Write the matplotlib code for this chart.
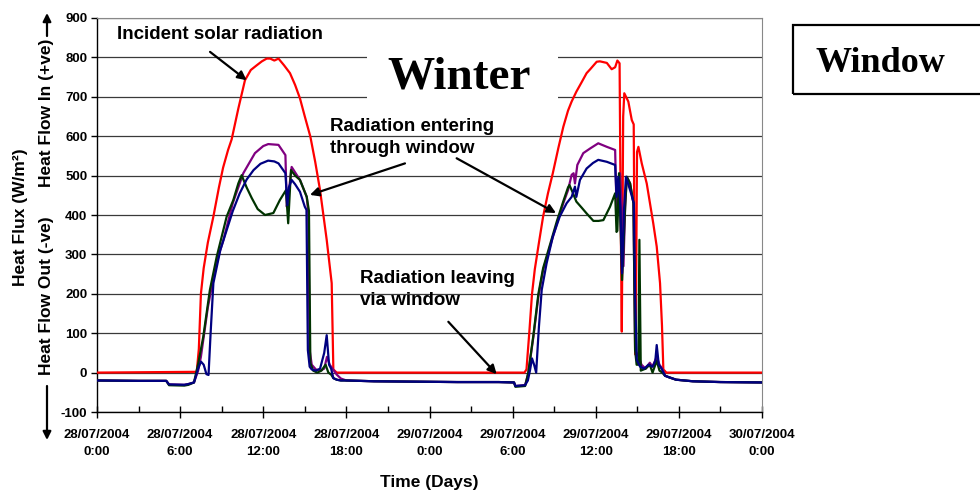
import matplotlib
matplotlib.use('Agg')
import matplotlib.pyplot as plt
from matplotlib.patches import Rectangle, FancyArrowPatch
from matplotlib.ticker import MultipleLocator

# ---------------- data (hours from 28/07/2004 0:00, W/m2) ----------------
red_t = [0, 7.2, 7.35, 7.5, 7.7, 8.0, 8.4, 8.8, 9.1, 9.46, 9.72, 10.2, 10.68, 11.1, 11.53, 11.9,
         12.25, 12.5, 12.8, 13.1, 13.5, 13.93, 14.3, 14.65, 15.0, 15.4, 15.75, 16.1, 16.58, 16.94,
         17.06, 17.3, 30.85, 31.0, 31.2, 31.4, 31.6, 31.9, 32.2, 32.55, 32.9, 33.3, 33.66, 34.0,
         34.26, 34.6, 34.95, 35.34, 35.6, 36.07, 36.3, 36.8, 37.15, 37.4, 37.56, 37.72, 37.8, 37.88,
         37.98, 38.06, 38.35, 38.6, 38.74, 38.8, 38.88, 38.98, 39.08, 39.32, 39.68, 40.15, 40.4,
         40.64, 40.78, 40.88, 41.1, 48]
red_v = [0, 2, 60, 200, 265, 330, 396, 470, 520, 565, 592, 670, 742, 768, 780, 790,
         797, 797, 792, 797, 780, 760, 730, 696, 650, 599, 535, 463, 337, 227,
         8, 0, 0, 8, 100, 200, 262, 330, 396, 455, 506, 570, 624, 665,
         688, 713, 735, 760, 770, 789, 790, 786, 770, 775, 792, 785, 400, 104,
         650, 709, 688, 641, 630, 300, 45, 560, 573, 531, 480, 379, 320,
         227, 120, 8, 0, 0]

purple_t = [0, 3, 5.0, 5.2, 6.3, 6.6, 7.0, 7.3, 7.5, 7.7, 8.0, 8.4, 8.8, 9.12, 9.8, 10.56, 11.4,
            12.0, 12.36, 13.1, 13.6, 13.7, 13.8, 14.05, 14.65, 15.14, 15.25, 15.35, 15.5, 15.8,
            16.1, 16.4, 16.6, 16.8, 17.0, 17.3, 17.6, 18.0, 20, 23, 26, 29, 30.1, 30.2, 30.9,
            31.13, 31.5, 31.86, 32.2, 32.7, 33.2, 33.66, 34.0, 34.26, 34.4, 34.5, 34.67, 35.1,
            35.6, 36.18, 36.8, 37.4, 37.5, 37.62, 37.75, 37.9, 38.0, 38.12, 38.24, 38.48, 38.72,
            38.84, 39.1, 39.3, 39.6, 39.9, 40.1, 40.4, 40.6, 40.8, 41.0, 41.3, 41.8, 43, 45, 48]
purple_v = [-20, -21, -21, -30, -31, -29, -25, 5, 40, 90, 165, 240, 300, 336, 430, 506, 557,
            575, 580, 578, 552, 421, 446, 522, 489, 446, 405, 57, 20, 8,
            5, 10, 40, 20, 10, -5, -15, -20, -22, -23, -24, -24, -25, -34, -32,
            -2, 91, 193, 260, 320, 379, 430, 463, 502, 506, 480, 527, 557,
            569, 582, 573, 565, 413, 470, 506, 400, 270, 420, 497, 480, 430,
            57, 40, 20, 10, 25, 15, 40, 20, 10, -8, -12, -18, -22, -24, -25]

green_t = [0, 3, 5.0, 5.2, 6.3, 6.6, 7.0, 7.3, 7.67, 8.15, 8.64, 9.36, 9.84, 10.2, 10.44, 10.8,
           11.17, 11.6, 12.13, 12.73, 13.2, 13.64, 13.8, 14.0, 14.3, 14.65, 15.14, 15.3, 15.4,
           15.6, 15.9, 16.2, 16.5, 16.7, 16.9, 17.06, 17.3, 17.6, 18.0, 20, 23, 26, 29, 30.1,
           30.2, 30.9, 31.0, 31.13, 31.5, 31.86, 32.2, 32.7, 33.2, 33.66, 34.0, 34.1, 34.3, 34.6,
           35.0, 35.34, 35.83, 36.2, 36.55, 37.03, 37.4, 37.5, 37.56, 37.68, 37.9, 38.12, 38.24,
           38.48, 38.72, 38.84, 38.95, 39.08, 39.15, 39.25, 39.6, 39.9, 40.1, 40.4, 40.6, 40.8,
           41.0, 41.3, 41.8, 43, 45, 48]
green_v = [-20, -21, -21, -32, -33, -31, -25, 22, 91, 210, 294, 396, 438, 480, 501, 470,
           443, 415, 400, 405, 438, 463, 379, 514, 500, 489, 446, 410, 24,
           5, 0, 5, 20, 0, -5, -14, -18, -20, -20, -22, -23, -24, -24, -25,
           -36, -34, -20, 0, 95, 200, 265, 325, 385, 435, 470, 476, 460, 434,
           418, 404, 385, 385, 387, 421, 455, 357, 360, 506, 235, 420, 497,
           480, 430, 57, 20, 20, 337, 5, 10, 20, 0, 30, 5, 0,
           -8, -12, -18, -22, -24, -25]

blue_t = [0, 3, 5.0, 5.2, 6.3, 6.6, 7.0, 7.3, 7.5, 7.7, 7.9, 8.05, 8.2, 8.4, 8.9, 9.3, 9.8, 10.3,
          10.8, 11.3, 11.8, 12.35, 12.8, 13.1, 13.6, 13.74, 13.85, 14.05, 14.3, 14.65, 15.0, 15.12,
          15.22, 15.35, 15.5, 15.8, 16.1, 16.4, 16.58, 16.75, 16.9, 17.06, 17.3, 17.6, 18.0, 20,
          23, 26, 29, 30.1, 30.2, 30.9, 31.1, 31.25, 31.4, 31.55, 31.7, 31.8, 31.9, 32.1, 32.45,
          32.9, 33.4, 33.9, 34.26, 34.5, 34.6, 34.86, 35.34, 35.8, 36.18, 36.8, 37.4, 37.5, 37.63,
          37.78, 37.9, 38.05, 38.18, 38.48, 38.75, 38.84, 38.96, 39.2, 39.5, 39.8, 40.1, 40.3,
          40.4, 40.55, 40.75, 41.0, 41.3, 41.8, 43, 45, 48]
blue_v = [-20, -21, -21, -30, -31, -29, -25, 10, 28, 20, -4, -6, 100, 227, 311, 355, 410, 455,
          490, 514, 530, 538, 536, 531, 506, 425, 470, 489, 478, 459, 421, 413,
          57, 15, 8, 5, 10, 50, 95, 20, 10, -14, -18, -20, -20, -22,
          -23, -24, -24, -25, -34, -32, -20, 5, 36, 20, 0, 60, 117, 210, 277,
          345, 396, 430, 446, 472, 446, 489, 518, 532, 540, 535, 527, 446, 497,
          420, 252, 420, 497, 463, 430, 200, 32, 15, 10, 20, 15, 30,
          70, 20, 10, -8, -12, -18, -22, -24, -25]

x_ticks = [0, 6, 12, 18, 24, 30, 36, 42, 48]
x_labels = ['28/07/2004\n0:00', '28/07/2004\n6:00', '28/07/2004\n12:00', '28/07/2004\n18:00',
            '29/07/2004\n0:00', '29/07/2004\n6:00', '29/07/2004\n12:00', '29/07/2004\n18:00',
            '30/07/2004\n0:00']
y_ticks = [-100, 0, 100, 200, 300, 400, 500, 600, 700, 800, 900]

# ---------------- figure ----------------
W, H = 980, 494
fig = plt.figure(figsize=(W / 100, H / 100), dpi=100)
ax = fig.add_axes([97 / W, 1 - 412 / H, (762 - 97) / W, (412 - 18) / H])

SANS = ['Liberation Sans', 'DejaVu Sans']
SERIF = ['Liberation Serif', 'DejaVu Serif']

ax.plot(red_t, red_v, color='#FF0000', lw=1.6, zorder=3)
ax.plot(purple_t, purple_v, color='#800080', lw=1.6, zorder=4)
ax.plot(green_t, green_v, color='#003300', lw=1.6, zorder=5)
ax.plot(blue_t, blue_v, color='#000080', lw=1.6, zorder=6)

ax.set_xlim(0, 48)
ax.set_ylim(-100, 900)
ax.set_xticks(x_ticks)
ax.set_xticklabels(x_labels, fontsize=9.5, fontweight='bold', family=SANS)
for lab in ax.get_xticklabels():
    lab.set_linespacing(1.55)
ax.xaxis.set_minor_locator(MultipleLocator(3))
ax.set_yticks(y_ticks)
ax.set_yticklabels([str(v) for v in y_ticks], fontsize=9.5, fontweight='bold', family=SANS)
ax.tick_params(axis='x', which='major', direction='inout', length=8, width=1, pad=8)
ax.tick_params(axis='x', which='minor', direction='in', length=4, width=1)
ax.tick_params(axis='y', which='major', direction='out', length=4, width=1, pad=3)

ax.set_axisbelow(True)
ax.grid(axis='y', color='#3a3a3a', lw=0.9)
for s in ['top', 'right']:
    ax.spines[s].set_color('#888888')
for s in ['left', 'bottom']:
    ax.spines[s].set_color('black')
    ax.spines[s].set_linewidth(1.0)

# White box behind "Winter"
ax.add_patch(Rectangle((19.49, 654), 33.28 - 19.49, 869.5 - 654, facecolor='white',
                       edgecolor='none', zorder=1))
ax.text(26.17, 722, 'Winter', ha='center', va='baseline', fontsize=34, fontweight='bold',
        family=SERIF, zorder=2)

arrow_kw = dict(arrowstyle='-|>', color='black', lw=1.6, mutation_scale=13, shrinkA=0, shrinkB=0)
txt_kw = dict(fontsize=13.5, fontweight='bold', family=SANS, ha='left', va='center',
              linespacing=1.4, zorder=7)

ax.text(1.44, 857, 'Incident solar radiation', **txt_kw)
ax.annotate('', xy=(10.8, 742), xytext=(8.16, 814), arrowprops=arrow_kw, zorder=7)

ax.text(16.8, 597, 'Radiation entering\nthrough window', **txt_kw)
ax.annotate('', xy=(15.37, 451), xytext=(22.23, 531), arrowprops=arrow_kw, zorder=7)
ax.annotate('', xy=(33.13, 405), xytext=(25.96, 544), arrowprops=arrow_kw, zorder=7)

ax.text(18.98, 210, 'Radiation leaving\nvia window', **txt_kw)
ax.annotate('', xy=(28.85, -4), xytext=(25.36, 129), arrowprops=arrow_kw, zorder=7)

# axis titles
fig.text(429.5 / W, 1 - 482 / H, 'Time (Days)', ha='center', va='center', fontsize=12.5,
         fontweight='bold', family=SANS)
fig.text(21 / W, 1 - 217 / H, 'Heat Flux (W/m²)', ha='center', va='center', rotation=90,
         fontsize=12.5, fontweight='bold', family=SANS)
fig.text(47 / W, 1 - 113 / H, 'Heat Flow In (+ve)', ha='center', va='center', rotation=90,
         fontsize=12.5, fontweight='bold', family=SANS)
fig.text(47 / W, 1 - 296 / H, 'Heat Flow Out (-ve)', ha='center', va='center', rotation=90,
         fontsize=12.5, fontweight='bold', family=SANS)
side_kw = dict(arrowstyle='-|>', color='black', lw=1.6, mutation_scale=12, shrinkA=0, shrinkB=0)
fig.add_artist(FancyArrowPatch((47 / W, 1 - 36 / H), (47 / W, 1 - 13 / H),
                               transform=fig.transFigure, **side_kw))
fig.add_artist(FancyArrowPatch((47 / W, 1 - 386 / H), (47 / W, 1 - 440 / H),
                               transform=fig.transFigure, **side_kw))

# "Window" box
fig.add_artist(Rectangle((793 / W, 1 - 94 / H), (1000 - 793) / W, (94 - 25) / H,
                         transform=fig.transFigure, facecolor='none', edgecolor='black', lw=1.6))
fig.text(815 / W, 1 - 72 / H, 'Window', ha='left', va='baseline', fontsize=26,
         fontweight='bold', family=SERIF)

fig.savefig('out.png', dpi=100)
